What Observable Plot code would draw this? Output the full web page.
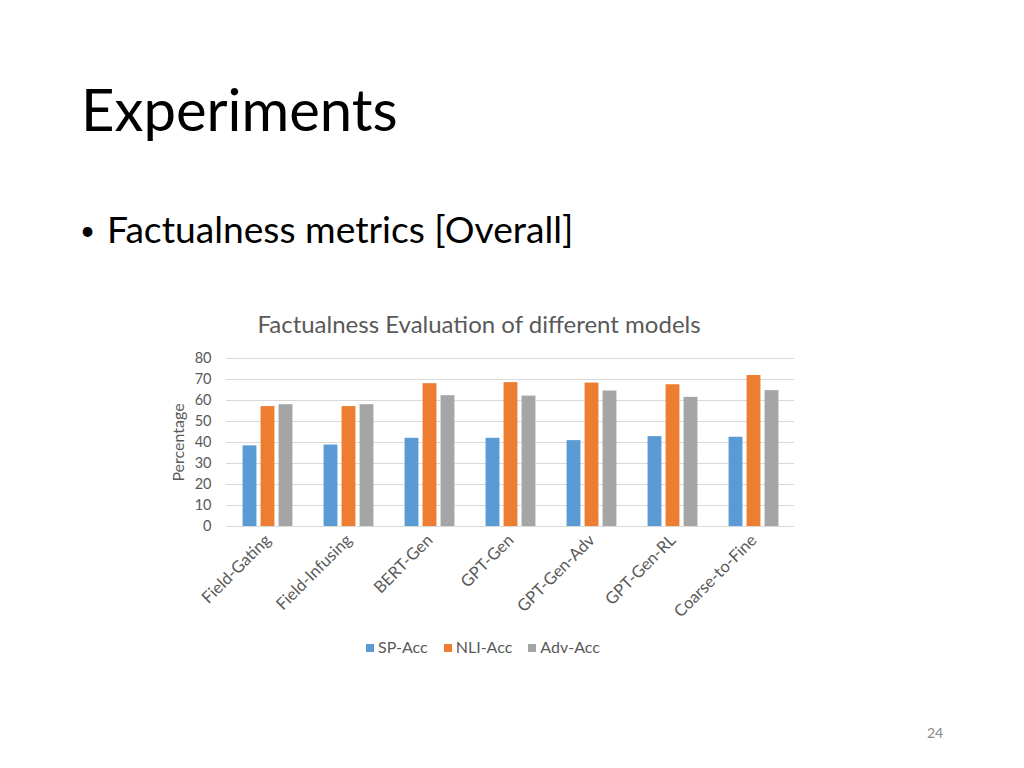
<!DOCTYPE html>
<html>
<head>
<meta charset="utf-8">
<script src="https://cdn.jsdelivr.net/npm/d3@7"></script>
<script src="https://cdn.jsdelivr.net/npm/@observablehq/plot@0.6"></script>
<style>
  html, body { margin: 0; padding: 0; background: #fff; }
  body { width: 1024px; height: 768px; position: relative; overflow: hidden; font-family: Lato, "Open Sans", sans-serif; }
  .abs { position: absolute; white-space: nowrap; }
  #title { left: 81px; top: 74px; font-size: 58px; color: #000; }
  #bullet { left: 80px; top: 206px; font-size: 37.2px; color: #000; }
  #bullet span { display: inline-block; width: 27px; font-size: 26px; vertical-align: 3px; }
  #ctitle { left: 0; width: 958px; top: 309px; text-align: center; font-size: 24px; color: #595959; }
  #chart { left: 0; top: 340px; }
  #legend { left: 0; width: 966px; top: 637px; text-align: center; font-size: 16px; color: #595959; }
  #legend .item { display: inline-block; margin: 0 8px; }
  #legend .sw { display: inline-block; width: 8px; height: 8px; margin-right: 4px; vertical-align: 1px; }
  #page { left: 927px; top: 724px; font-size: 14px; color: #898989; }
</style>
</head>
<body>
<div id="title" class="abs">Experiments</div>
<div id="bullet" class="abs"><span>•</span>Factualness metrics [Overall]</div>
<div id="ctitle" class="abs">Factualness Evaluation of different models</div>
<div id="chart" class="abs"></div>
<div id="legend" class="abs"></div>
<div id="page" class="abs">24</div>
<script>
const models = ["Field-Gating", "Field-Infusing", "BERT-Gen", "GPT-Gen", "GPT-Gen-Adv", "GPT-Gen-RL", "Coarse-to-Fine"];
const seriesNames = ["SP-Acc", "NLI-Acc", "Adv-Acc"];
const spAcc  = [38.4, 38.8, 42.0, 42.0, 40.9, 42.8, 42.5];
const nliAcc = [57.1, 57.1, 68.0, 68.5, 68.3, 67.5, 71.9];
const advAcc = [58.0, 58.0, 62.3, 62.1, 64.5, 61.5, 64.7];
const colors = ["#5b9bd5", "#ed7d31", "#a5a5a5"];
const yTicks = [0, 10, 20, 30, 40, 50, 60, 70, 80];

const seriesValues = [spAcc, nliAcc, advAcc];
const offsets = [-18, 0, 18];
const tables = seriesValues.map(vals => models.map((m, i) => ({model: m, value: vals[i]})));

const bw = 14;
const band = (794 - 226) / models.length;
const inset = (band - bw) / 2;

const plot = Plot.plot({
  width: 1024,
  height: 290,
  marginLeft: 226,
  marginRight: 230,
  marginTop: 18,
  marginBottom: 104,
  style: { fontFamily: "Lato, 'Open Sans', sans-serif", fontSize: "14px", color: "#595959", background: "transparent" },
  x: { domain: models, padding: 0, label: null, tickSize: 0, tickPadding: 11, tickRotate: -45 },
  y: { domain: [0, 80], ticks: yTicks, label: null, tickSize: 0, tickPadding: 15 },
  marks: [
    Plot.ruleY(yTicks, { stroke: "#d9d9d9", strokeWidth: 1 }),
    ...tables.map((t, k) => Plot.barY(t, {
      x: "model", y: "value", fill: colors[k], dx: offsets[k],
      insetLeft: inset, insetRight: inset
    })),
    Plot.axisX({ tickSize: 0, tickPadding: 11, tickRotate: -45, fontSize: 16.5, label: null }),
    Plot.axisY({ ticks: yTicks, tickSize: 0, tickPadding: 15, fontSize: 14.5, label: null }),
    Plot.text(["Percentage"], { frameAnchor: "left", dx: -48, rotate: -90, textAnchor: "middle", fontSize: 16, fill: "#595959" })
  ]
});
document.getElementById("chart").appendChild(plot);

const legend = document.getElementById("legend");
seriesNames.forEach((name, k) => {
  const it = document.createElement("span");
  it.className = "item";
  it.innerHTML = `<span class="sw" style="background:${colors[k]}"></span>${name}`;
  legend.appendChild(it);
});
</script>
</body>
</html>
